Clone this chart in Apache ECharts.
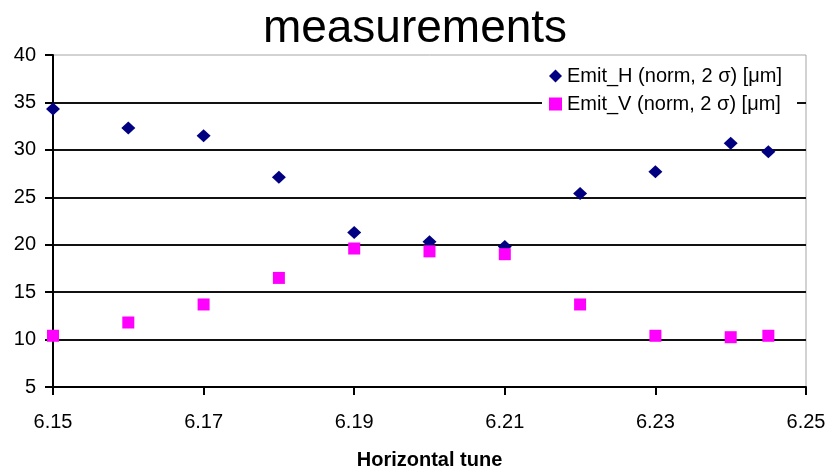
<!DOCTYPE html>
<html>
<head>
<meta charset="utf-8">
<title>measurements</title>
<script src="https://cdn.jsdelivr.net/npm/echarts@6/dist/echarts.min.js"></script>
<style>
  html, body { margin: 0; padding: 0; background: #ffffff; }
  #chart { width: 830px; height: 469px; }
</style>
</head>
<body>
<div id="chart"></div>
<script>
// Horizontal tune values of the scan
const tunes = [6.15, 6.16, 6.17, 6.18, 6.19, 6.20, 6.21, 6.22, 6.23, 6.24, 6.245];
// Normalised 2-sigma emittances in µm
const emitH = [34.3, 32.3, 31.5, 27.1, 21.3, 20.3, 19.8, 25.4, 27.7, 30.7, 29.8];
const emitV = [10.4, 11.8, 13.7, 16.5, 19.6, 19.3, 19.0, 13.7, 10.4, 10.25, 10.4];
// Axis tick labels
const xTicks = [6.15, 6.17, 6.19, 6.21, 6.23, 6.25];
const seriesNames = ['Emit_H (norm, 2 σ) [μm]', 'Emit_V (norm, 2 σ) [μm]'];

const FONT = '"Liberation Sans", Arial, sans-serif';

const pairs = (ys) => tunes.map((t, i) => [t, ys[i]]);

const chart = echarts.init(document.getElementById('chart'), null, { renderer: 'canvas' });
chart.setOption({
  animation: false,
  backgroundColor: '#ffffff',
  title: {
    text: 'measurements',
    left: 'center',
    top: 1,
    textStyle: { fontFamily: FONT, fontSize: 46, fontWeight: 'normal', color: '#000' }
  },
  legend: {
    orient: 'vertical',
    right: 33,
    top: 62,
    z: 20,
    padding: [4, 15, 4, 7],
    backgroundColor: '#ffffff',
    itemWidth: 13,
    itemHeight: 13,
    itemGap: 8,
    textStyle: { fontFamily: FONT, fontSize: 20, color: '#000' },
    data: [
      { name: seriesNames[0], icon: 'diamond', itemStyle: { opacity: 1 } },
      { name: seriesNames[1], icon: 'rect', itemStyle: { opacity: 1 } }
    ]
  },
  grid: {
    left: 53,
    right: 24,
    top: 55,
    bottom: 82,
    containLabel: false,
    outerBoundsMode: 'none',
    show: true,
    borderColor: '#a6a6a6',
    borderWidth: 1
  },
  xAxis: {
    type: 'value',
    min: 6.15,
    max: 6.25,
    z: 5,
    name: 'Horizontal tune',
    nameLocation: 'middle',
    nameGap: 63,
    nameTextStyle: { fontFamily: FONT, fontSize: 20, fontWeight: 'bold', color: '#000' },
    axisLine: { show: true, onZero: false, lineStyle: { color: '#000', width: 2 } },
    axisTick: { show: true, customValues: xTicks, length: 8, lineStyle: { color: '#000', width: 2 } },
    axisLabel: {
      customValues: xTicks,
      margin: 25,
      fontFamily: FONT,
      fontSize: 20,
      color: '#000',
      formatter: (v) => v.toFixed(2)
    },
    splitLine: { show: false }
  },
  yAxis: {
    type: 'value',
    min: 5,
    max: 40,
    interval: 5,
    z: 5,
    axisLine: { show: true, onZero: false, lineStyle: { color: '#000', width: 2 } },
    axisTick: { show: true, inside: false, length: 8, lineStyle: { color: '#000', width: 2 } },
    axisLabel: { margin: 17, fontFamily: FONT, fontSize: 20, color: '#000' },
    splitLine: { show: true, showMaxLine: false, lineStyle: { color: '#111', width: 2 } }
  },
  series: [
    {
      name: seriesNames[0],
      type: 'scatter',
      symbol: 'diamond',
      symbolSize: [14, 13],
      z: 6,
      itemStyle: { color: '#000080', opacity: 1 },
      data: pairs(emitH)
    },
    {
      name: seriesNames[1],
      type: 'scatter',
      symbol: 'rect',
      symbolSize: 12,
      z: 7,
      itemStyle: { color: '#ff00ff', opacity: 1 },
      data: pairs(emitV)
    }
  ]
});
</script>
</body>
</html>
